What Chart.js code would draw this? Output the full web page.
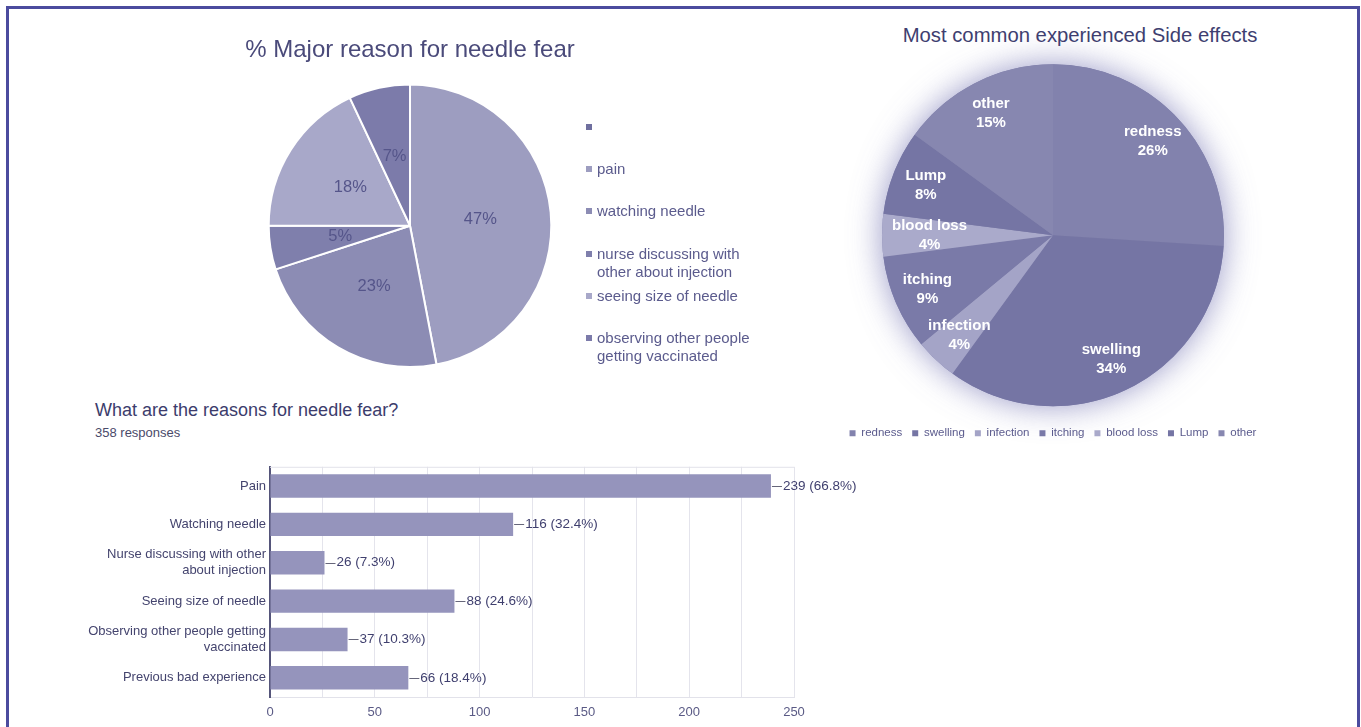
<!DOCTYPE html>
<html>
<head>
<meta charset="utf-8">
<title>Needle fear charts</title>
<script src="https://cdn.jsdelivr.net/npm/chart.js@4.4.1/dist/chart.umd.min.js"></script>
<style>
  html, body { margin: 0; padding: 0; background: #fff; }
  body { width: 1361px; height: 727px; position: relative; overflow: hidden; font-family: "Liberation Sans", Arial, sans-serif; }
  .frame { position: absolute; left: 6px; top: 6px; width: 1348px; height: 760px; border: 3px solid #4b4b9e; border-bottom: none; }
  .box { position: absolute; }
  #side-title { left: 830px; top: 23px; width: 500px; text-align: center; font-size: 20.3px; line-height: 24px; color: #3e3e70; }
  #bar-title { left: 95px; top: 399px; font-size: 18px; line-height: 22px; color: #3c3c6c; white-space: nowrap; }
  #bar-sub { left: 95px; top: 425px; font-size: 13px; line-height: 16px; color: #4a4a6a; white-space: nowrap; }
  .leg { position: absolute; left: 585px; font-size: 15px; line-height: 18px; color: #5b5b8d; padding-left: 12px; white-space: nowrap; }
  .leg i { position: absolute; left: 1px; top: 6px; width: 6px; height: 6px; }
</style>
</head>
<body>
<div class="frame"></div>

<div class="box" style="left:200px;top:30px;width:420px;height:338px"><canvas id="fearPie"></canvas></div>
<div id="fear-legend"></div>

<div id="side-title" class="box">Most common experienced Side effects</div>
<div class="box" style="left:803px;top:33px;width:500px;height:416px"><canvas id="sidePie"></canvas></div>

<div id="bar-title" class="box">What are the reasons for needle fear?</div>
<div id="bar-sub" class="box"></div>
<div class="box" style="left:60px;top:455px;width:840px;height:272px"><canvas id="reasonBar"></canvas></div>

<script>
const FONT = '"Liberation Sans", Arial, sans-serif';

// % Major reason for needle fear
const fearLabels = ['', 'pain', 'watching needle', ['nurse discussing with', 'other about injection'],
  'seeing size of needle', ['observing other people', 'getting vaccinated']];
const fearPct = [0, 47, 23, 5, 18, 7];
const fearColors = ['#6f6f9f', '#9d9dc0', '#8c8cb4', '#7f7fac', '#a8a8c9', '#7c7baa'];

// Most common experienced side effects
const sideLabels = ['redness', 'swelling', 'infection', 'itching', 'blood loss', 'Lump', 'other'];
const sidePct = [26, 34, 4, 9, 4, 8, 15];
const sideColors = ['#8282ad', '#7575a4', '#a4a4c7', '#7a7aa8', '#aaaacb', '#7575a4', '#8787b0'];

// What are the reasons for needle fear?
const reasonLabels = ['Pain', 'Watching needle', ['Nurse discussing with other', 'about injection'],
  'Seeing size of needle', ['Observing other people getting', 'vaccinated'], 'Previous bad experience'];
const reasonCounts = [239, 116, 26, 88, 37, 66];
const totalResponses = 358;
const xTicks = [0, 50, 100, 150, 200, 250];

document.getElementById('bar-sub').textContent = totalResponses + ' responses';

// percent text inside the left pie
const fearLabelPlugin = {
  id: 'fearLabels',
  afterDatasetsDraw(chart) {
    const ctx = chart.ctx;
    const meta = chart.getDatasetMeta(0);
    ctx.save();
    ctx.font = '16.5px ' + FONT;
    ctx.fillStyle = '#55558a';
    ctx.textAlign = 'center';
    ctx.textBaseline = 'middle';
    meta.data.forEach((arc, i) => {
      if (!fearPct[i]) return;
      const p = arc.tooltipPosition();
      ctx.fillText(fearPct[i] + '%', p.x, p.y);
    });
    ctx.restore();
  }
};

// soft halo behind the right pie + white labels
const sidePlugin = {
  id: 'sideDecor',
  beforeDatasetsDraw(chart) {
    const arc = chart.getDatasetMeta(0).data[0];
    if (!arc) return;
    const ctx = chart.ctx;
    ctx.save();
    ctx.shadowColor = 'rgba(110,110,175,0.7)';
    ctx.shadowBlur = 32;
    ctx.fillStyle = '#8080aa';
    ctx.beginPath();
    ctx.arc(arc.x, arc.y, arc.outerRadius, 0, Math.PI * 2);
    ctx.fill();
    ctx.restore();
  },
  afterDatasetsDraw(chart) {
    const ctx = chart.ctx;
    ctx.save();
    ctx.font = 'bold 15px ' + FONT;
    ctx.fillStyle = '#ffffff';
    ctx.textAlign = 'center';
    ctx.textBaseline = 'middle';
    chart.getDatasetMeta(0).data.forEach((arc, i) => {
      const r = arc.outerRadius;
      const mid = (arc.startAngle + arc.endAngle) / 2;
      let x = arc.x + Math.cos(mid) * r * 0.8;
      const y = arc.y + Math.sin(mid) * r * 0.8;
      const w = ctx.measureText(sideLabels[i]).width;
      const half = Math.sqrt(Math.max(r * r - (y - arc.y) * (y - arc.y), 0));
      const minX = arc.x - half + 10 + w / 2;
      const maxX = arc.x + half - 10 - w / 2;
      if (x < minX) x = minX;
      if (x > maxX) x = maxX;
      ctx.fillText(sideLabels[i], x, y - 9.5);
      ctx.fillText(sidePct[i] + '%', x, y + 9.5);
    });
    ctx.restore();
  }
};

// leader line + "n (p%)" at the bar ends, light frame on top
const barPlugin = {
  id: 'barDecor',
  beforeDatasetsDraw(chart) {
    const {ctx, chartArea} = chart;
    ctx.save();
    ctx.strokeStyle = '#e2e2ea';
    ctx.lineWidth = 1;
    ctx.beginPath();
    ctx.moveTo(chartArea.left, chartArea.top + 0.5);
    ctx.lineTo(chartArea.right, chartArea.top + 0.5);
    ctx.stroke();
    ctx.restore();
  },
  afterDatasetsDraw(chart) {
    const ctx = chart.ctx;
    ctx.save();
    ctx.font = '13.5px ' + FONT;
    ctx.textBaseline = 'middle';
    chart.getDatasetMeta(0).data.forEach((bar, i) => {
      const v = reasonCounts[i];
      ctx.strokeStyle = '#66667a';
      ctx.lineWidth = 1;
      ctx.beginPath();
      ctx.moveTo(bar.x + 1, Math.round(bar.y) + 0.5);
      ctx.lineTo(bar.x + 11, Math.round(bar.y) + 0.5);
      ctx.stroke();
      ctx.fillStyle = '#3f3f6e';
      const pct = (v / totalResponses * 100).toFixed(1);
      ctx.fillText(v + ' (' + pct + '%)', bar.x + 12, bar.y);
    });
    ctx.restore();
  }
};

// html legend for left pie
const legEl = document.getElementById('fear-legend');
fearLabels.forEach((lab, i) => {
  const d = document.createElement('div');
  d.className = 'leg';
  d.style.top = (118 + 42.2 * i) + 'px';
  const sq = document.createElement('i');
  sq.style.background = fearColors[i];
  d.appendChild(sq);
  const lines = Array.isArray(lab) ? lab : [lab];
  lines.forEach((t, j) => {
    if (j) d.appendChild(document.createElement('br'));
    d.appendChild(document.createTextNode(t));
  });
  legEl.appendChild(d);
});

new Chart(document.getElementById('fearPie'), {
  type: 'pie',
  data: {
    labels: fearLabels,
    datasets: [{
      data: fearPct,
      backgroundColor: fearColors,
      borderColor: '#ffffff',
      borderWidth: 2
    }]
  },
  options: {
    responsive: true,
    maintainAspectRatio: false,
    animation: false,
    layout: { padding: 0 },
    plugins: {
      legend: { display: false },
      tooltip: { enabled: false },
      title: {
        display: true,
        text: '% Major reason for needle fear',
        color: '#4a4a7a',
        font: { family: FONT, size: 24, weight: 'normal' },
        padding: { top: 5.6, bottom: 19 }
      }
    }
  },
  plugins: [fearLabelPlugin]
});

new Chart(document.getElementById('sidePie'), {
  type: 'pie',
  data: {
    labels: sideLabels,
    datasets: [{
      data: sidePct,
      backgroundColor: sideColors,
      borderWidth: 0,
      radius: 171
    }]
  },
  options: {
    responsive: true,
    maintainAspectRatio: false,
    animation: false,
    layout: { padding: { top: 20 } },
    plugins: {
      tooltip: { enabled: false },
      legend: {
        position: 'bottom',
        labels: {
          boxWidth: 6,
          boxHeight: 6,
          padding: 10,
          color: '#5b5b8d',
          font: { family: FONT, size: 11.5 }
        }
      }
    }
  },
  plugins: [sidePlugin]
});

new Chart(document.getElementById('reasonBar'), {
  type: 'bar',
  data: {
    labels: reasonLabels,
    datasets: [{
      data: reasonCounts,
      backgroundColor: '#9594bc',
      borderWidth: 0,
      categoryPercentage: 1,
      barPercentage: 0.61
    }]
  },
  options: {
    indexAxis: 'y',
    responsive: true,
    maintainAspectRatio: false,
    animation: false,
    layout: { padding: { left: 0, right: 106, top: 8, bottom: 0 } },
    plugins: {
      legend: { display: false },
      tooltip: { enabled: false }
    },
    scales: {
      x: {
        min: 0,
        max: 250,
        afterFit(scale) { scale.height = 30; },
        grid: { color: '#e4e4ec', drawTicks: false },
        border: { color: '#e2e2ea' },
        ticks: {
          stepSize: 25,
          padding: 8,
          color: '#5a5a85',
          font: { family: FONT, size: 13 },
          callback: v => xTicks.includes(v) ? v : ''
        }
      },
      y: {
        afterFit(scale) { scale.width = 210; },
        grid: { display: false, drawTicks: false },
        border: { color: '#55557a', width: 2 },
        ticks: {
          padding: 4,
          color: '#44446e',
          font: { family: FONT, size: 13 }
        }
      }
    }
  },
  plugins: [barPlugin]
});
</script>
</body>
</html>
